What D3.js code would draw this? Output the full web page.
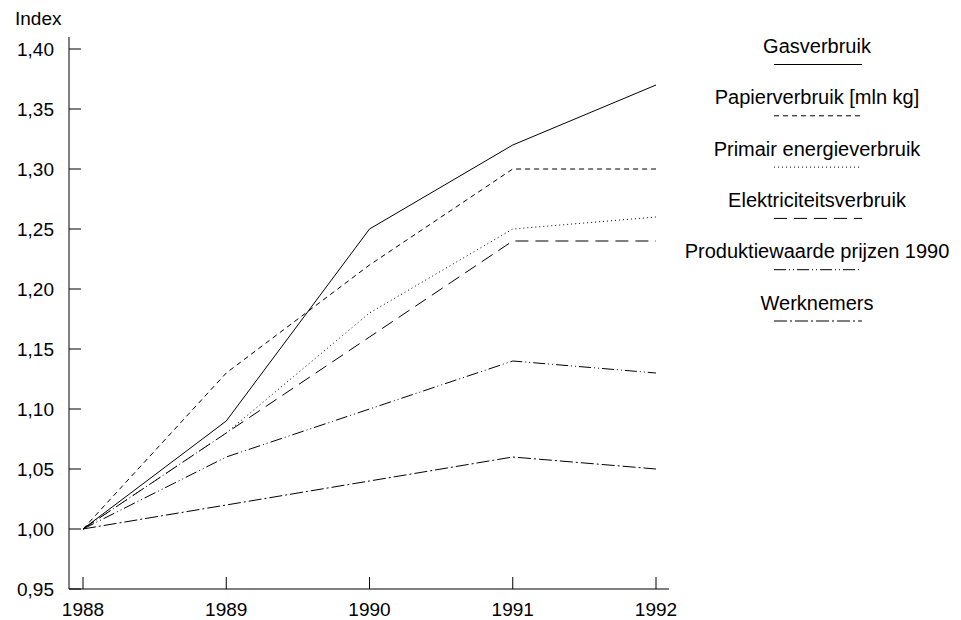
<!DOCTYPE html>
<html>
<head>
<meta charset="utf-8">
<script src="https://cdn.jsdelivr.net/npm/d3@7"></script>
<style>
  body { margin: 0; background: #fff; }
  text { font-family: "Liberation Sans", Arial, sans-serif; }
</style>
</head>
<body>
<div id="chart"></div>
<script>
const years = [1988, 1989, 1990, 1991, 1992];
const yTicks = [0.95, 1.00, 1.05, 1.10, 1.15, 1.20, 1.25, 1.30, 1.35, 1.40];

const seriesNames = ["Gasverbruik", "Papierverbruik [mln kg]", "Primair energieverbruik",
    "Elektriciteitsverbruik", "Produktiewaarde prijzen 1990", "Werknemers"];
const gasverbruik = [1.00, 1.09, 1.25, 1.32, 1.37];
const papierverbruik = [1.00, 1.13, 1.22, 1.30, 1.30];
const primairEnergie = [1.00, 1.08, 1.18, 1.25, 1.26];
const elektriciteit = [1.00, 1.08, 1.16, 1.24, 1.24];
const produktiewaarde = [1.00, 1.06, 1.10, 1.14, 1.13];
const werknemers = [1.00, 1.02, 1.04, 1.06, 1.05];
const seriesValues = [gasverbruik, papierverbruik, primairEnergie, elektriciteit, produktiewaarde, werknemers];
const dashes = [null, "5,4", "1,3", "13,7", "12,3,1,3,1,3", "13,3,2,3"];

const svg = d3.select("#chart").append("svg")
    .attr("width", 961)
    .attr("height", 620);

const x = d3.scaleLinear().domain([1988, 1992]).range([83, 656]);
const y = d3.scaleLinear().domain([0.95, 1.40]).range([589, 49]);

// y axis
svg.append("line")
    .attr("x1", 69).attr("x2", 69)
    .attr("y1", 37).attr("y2", 589)
    .attr("stroke", "#000");
svg.append("g").selectAll("line")
    .data(yTicks)
    .join("line")
    .attr("x1", 69).attr("x2", 81)
    .attr("y1", d => y(d)).attr("y2", d => y(d))
    .attr("stroke", "#000");
svg.append("g").selectAll("text")
    .data(yTicks)
    .join("text")
    .attr("x", 54)
    .attr("y", d => y(d))
    .attr("dy", "0.35em")
    .attr("text-anchor", "end")
    .attr("font-size", 19)
    .text(d => d3.format(".2f")(d).replace(".", ","));

svg.append("text")
    .attr("x", 15).attr("y", 25)
    .attr("font-size", 19)
    .text("Index");

// x axis
svg.append("line")
    .attr("x1", 69).attr("x2", 669)
    .attr("y1", 589).attr("y2", 589)
    .attr("stroke", "#000");
svg.append("g").selectAll("line")
    .data(years)
    .join("line")
    .attr("x1", d => x(d)).attr("x2", d => x(d))
    .attr("y1", 589).attr("y2", 577)
    .attr("stroke", "#000");
svg.append("g").selectAll("text")
    .data(years)
    .join("text")
    .attr("x", d => x(d))
    .attr("y", 616)
    .attr("text-anchor", "middle")
    .attr("font-size", 19)
    .text(d => d);

// lines
const line = d3.line()
    .x((d, i) => x(years[i]))
    .y(d => y(d));

svg.append("g").selectAll("path")
    .data(seriesValues)
    .join("path")
    .attr("d", d => line(d))
    .attr("fill", "none")
    .attr("stroke", "#000")
    .attr("stroke-width", 1)
    .attr("stroke-dasharray", (d, i) => dashes[i]);

// legend
const legend = svg.append("g");
seriesNames.forEach((name, i) => {
    const row = legend.append("g")
        .attr("transform", `translate(817, ${53 + i * 51.3})`);
    row.append("text")
        .attr("text-anchor", "middle")
        .attr("font-size", 20)
        .text(name);
    row.append("line")
        .attr("x1", -43).attr("x2", 45)
        .attr("y1", 11.5).attr("y2", 11.5)
        .attr("stroke", "#000")
        .attr("stroke-dasharray", dashes[i]);
});
</script>
</body>
</html>
